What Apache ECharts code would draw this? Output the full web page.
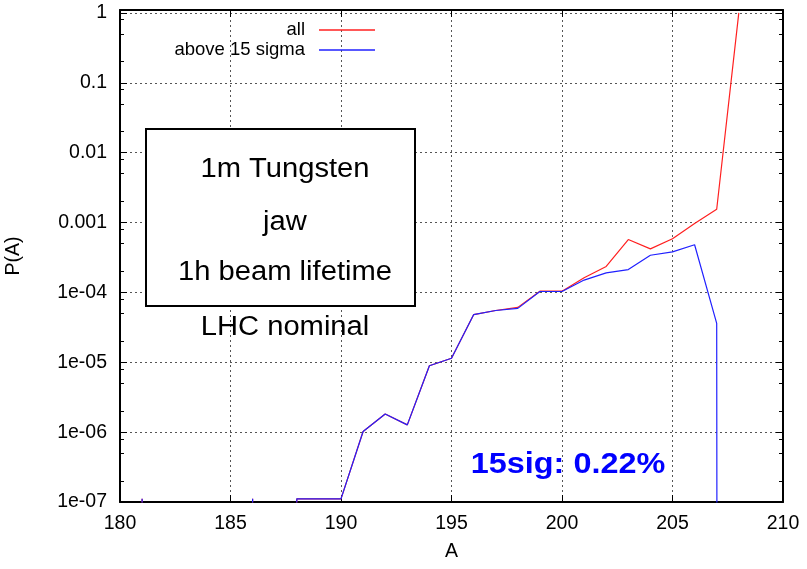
<!DOCTYPE html>
<html>
<head>
<meta charset="utf-8">
<script src="https://cdn.jsdelivr.net/npm/echarts@6/dist/echarts.min.js"></script>
<style>
  html, body { margin: 0; padding: 0; background: #fff; }
  #chart { width: 807px; height: 569px; }
</style>
</head>
<body>
<div id="chart"></div>
<script>
// Fragment mass number A
const massNumbers = [180, 181, 182, 183, 184, 185, 186, 187, 188, 189, 190, 191, 192, 193, 194,
  195, 196, 197, 198, 199, 200, 201, 202, 203, 204, 205, 206, 207, 208];

// P(A), all fragments (0 = empty bin)
const allValues = [0, 1.11e-7, 0, 0, 0, 0, 1.11e-7, 0, 1.11e-7, 1.11e-7, 1.11e-7, 1.02e-6, 1.82e-6, 1.27e-6, 8.9e-6,
  1.14e-5, 4.8e-5, 5.5e-5, 6.1e-5, 1.04e-4, 1.04e-4, 1.62e-4, 2.35e-4, 5.7e-4, 4.2e-4, 5.85e-4, 9.7e-4, 1.55e-3, 1];

// P(A), fragments above 15 sigma
const sigma15Values = [0, 1.11e-7, 0, 0, 0, 0, 1.11e-7, 0, 1.11e-7, 1.11e-7, 1.11e-7, 1.02e-6, 1.82e-6, 1.27e-6, 8.9e-6,
  1.14e-5, 4.8e-5, 5.5e-5, 5.9e-5, 1.03e-4, 1.03e-4, 1.5e-4, 1.9e-4, 2.12e-4, 3.4e-4, 3.8e-4, 4.8e-4, 3.6e-5, 0];

const seriesNames = ['all', 'above 15 sigma'];
const seriesColors = ['#ff2020', '#2020ff'];

// Axis ticks
const xTicks = [180, 185, 190, 195, 200, 205, 210];
const yTickValues = [1e-7, 1e-6, 1e-5, 1e-4, 1e-3, 1e-2, 1e-1, 1];
const yTickLabels = ['1e-07', '1e-06', '1e-05', '1e-04', '0.001', '0.01', '0.1', '1'];
const yMinorFactors = [2, 5, 8];

const xTitle = 'A';
const yTitle = 'P(A)';
const boxLines = ['1m Tungsten', 'jaw', '1h beam lifetime'];
const noteText = 'LHC nominal';
const summaryText = '15sig: 0.22%';

// empty bins cannot sit on a log axis: push them far below the floor so the line drops straight down
const FLOOR = 1e-300;
const toPairs = vals => massNumbers.map((a, i) => [a, vals[i] > 0 ? vals[i] : FLOOR]);

const yMinorValues = [];
for (let i = 0; i < yTickValues.length - 1; i++) {
  yMinorFactors.forEach(f => yMinorValues.push(yTickValues[i] * f));
}

const FONT = 'Liberation Sans, Arial, Helvetica, sans-serif';
const gridLine = { show: true, lineStyle: { color: '#555', type: [2, 3], width: 1 } };

const logAxisBase = {
  type: 'log',
  logBase: 10,
  min: yTickValues[0],
  max: 1.1,
  splitNumber: 7
};

const chart = echarts.init(document.getElementById('chart'), null, { renderer: 'canvas' });

const annotation = (text, x, y, font, fill) => ({
  type: 'text', z: 11, x: x, y: y, scaleX: 1.08,
  style: { text: text, font: font, fill: fill, align: 'center', verticalAlign: 'middle' }
});

chart.setOption({
  animation: false,
  backgroundColor: '#fff',
  textStyle: { fontFamily: FONT },
  grid: { left: 120, right: 24, top: 10, bottom: 67, containLabel: false, outerBoundsMode: 'none' },
  legend: {
    orient: 'vertical',
    align: 'right',
    right: 427,
    top: 15,
    itemWidth: 56,
    itemHeight: 1.5,
    itemGap: 0,
    textStyle: { fontFamily: FONT, fontSize: 18.5, lineHeight: 20, color: '#000', padding: [0, 9, 0, 0] },
    data: seriesNames.map(n => ({ name: n, icon: 'rect' }))
  },
  xAxis: [
    {
      type: 'value', position: 'bottom',
      min: xTicks[0], max: xTicks[xTicks.length - 1], interval: 5,
      name: xTitle, nameLocation: 'middle', nameGap: 40,
      nameTextStyle: { fontSize: 19.5, color: '#000', fontFamily: FONT },
      axisLine: { show: true, lineStyle: { color: '#000', width: 2 } },
      axisTick: { show: true, inside: true, length: 7, lineStyle: { color: '#000', width: 1 } },
      axisLabel: { fontSize: 19.5, color: '#000', margin: 12, fontFamily: FONT },
      splitLine: gridLine
    },
    {
      type: 'value', position: 'top',
      min: xTicks[0], max: xTicks[xTicks.length - 1], interval: 5,
      axisLine: { show: true, lineStyle: { color: '#000', width: 2 } },
      axisTick: { show: true, inside: true, length: 7, lineStyle: { color: '#000', width: 1 } },
      axisLabel: { show: false },
      splitLine: { show: false }
    }
  ],
  yAxis: [
    Object.assign({}, logAxisBase, {
      position: 'left',
      name: yTitle, nameLocation: 'middle', nameGap: 96, nameRotate: 90,
      nameTextStyle: { fontSize: 19.5, color: '#000', fontFamily: FONT },
      axisLine: { show: true, lineStyle: { color: '#000', width: 2 } },
      axisTick: { show: true, inside: true, length: 7, customValues: yTickValues, lineStyle: { color: '#000', width: 1 } },
      axisLabel: {
        fontSize: 19.5, color: '#000', margin: 13, fontFamily: FONT,
        customValues: yTickValues,
        formatter: v => yTickLabels[Math.round(Math.log10(v)) + 7]
      },
      splitLine: gridLine
    }),
    Object.assign({}, logAxisBase, {
      position: 'left', offset: 0,
      axisLine: { show: false },
      axisTick: { show: true, inside: true, length: 4, customValues: yMinorValues, lineStyle: { color: '#000', width: 1 } },
      axisLabel: { show: false },
      splitLine: { show: false }
    }),
    Object.assign({}, logAxisBase, {
      position: 'right',
      axisLine: { show: true, lineStyle: { color: '#000', width: 2 } },
      axisTick: { show: true, inside: true, length: 7, customValues: yTickValues, lineStyle: { color: '#000', width: 1 } },
      axisLabel: { show: false },
      splitLine: { show: false }
    }),
    Object.assign({}, logAxisBase, {
      position: 'right', offset: 0,
      axisLine: { show: false },
      axisTick: { show: true, inside: true, length: 4, customValues: yMinorValues, lineStyle: { color: '#000', width: 1 } },
      axisLabel: { show: false },
      splitLine: { show: false }
    })
  ],
  series: [
    {
      name: seriesNames[0], type: 'line', xAxisIndex: 0, yAxisIndex: 0,
      data: toPairs(allValues), symbol: 'none', showSymbol: false,
      lineStyle: { color: seriesColors[0], width: 1.2 }, itemStyle: { color: seriesColors[0] },
      clip: true, z: 3
    },
    {
      name: seriesNames[1], type: 'line', xAxisIndex: 0, yAxisIndex: 0,
      data: toPairs(sigma15Values), symbol: 'none', showSymbol: false,
      lineStyle: { color: seriesColors[1], width: 1.2 }, itemStyle: { color: seriesColors[1] },
      clip: true, z: 4
    }
  ],
  graphic: [
    {
      type: 'rect', z: 10,
      shape: { x: 146, y: 129, width: 269, height: 177 },
      style: { fill: '#fff', stroke: '#000', lineWidth: 2 }
    },
    annotation(boxLines[0], 285, 170, '27px ' + FONT, '#000'),
    annotation(boxLines[1], 285, 223, '27px ' + FONT, '#000'),
    annotation(boxLines[2], 285, 273, '27px ' + FONT, '#000'),
    annotation(noteText, 285, 328, '27px ' + FONT, '#000'),
    annotation(summaryText, 568, 465, 'bold 30px ' + FONT, '#0000ff')
  ]
});
</script>
</body>
</html>
